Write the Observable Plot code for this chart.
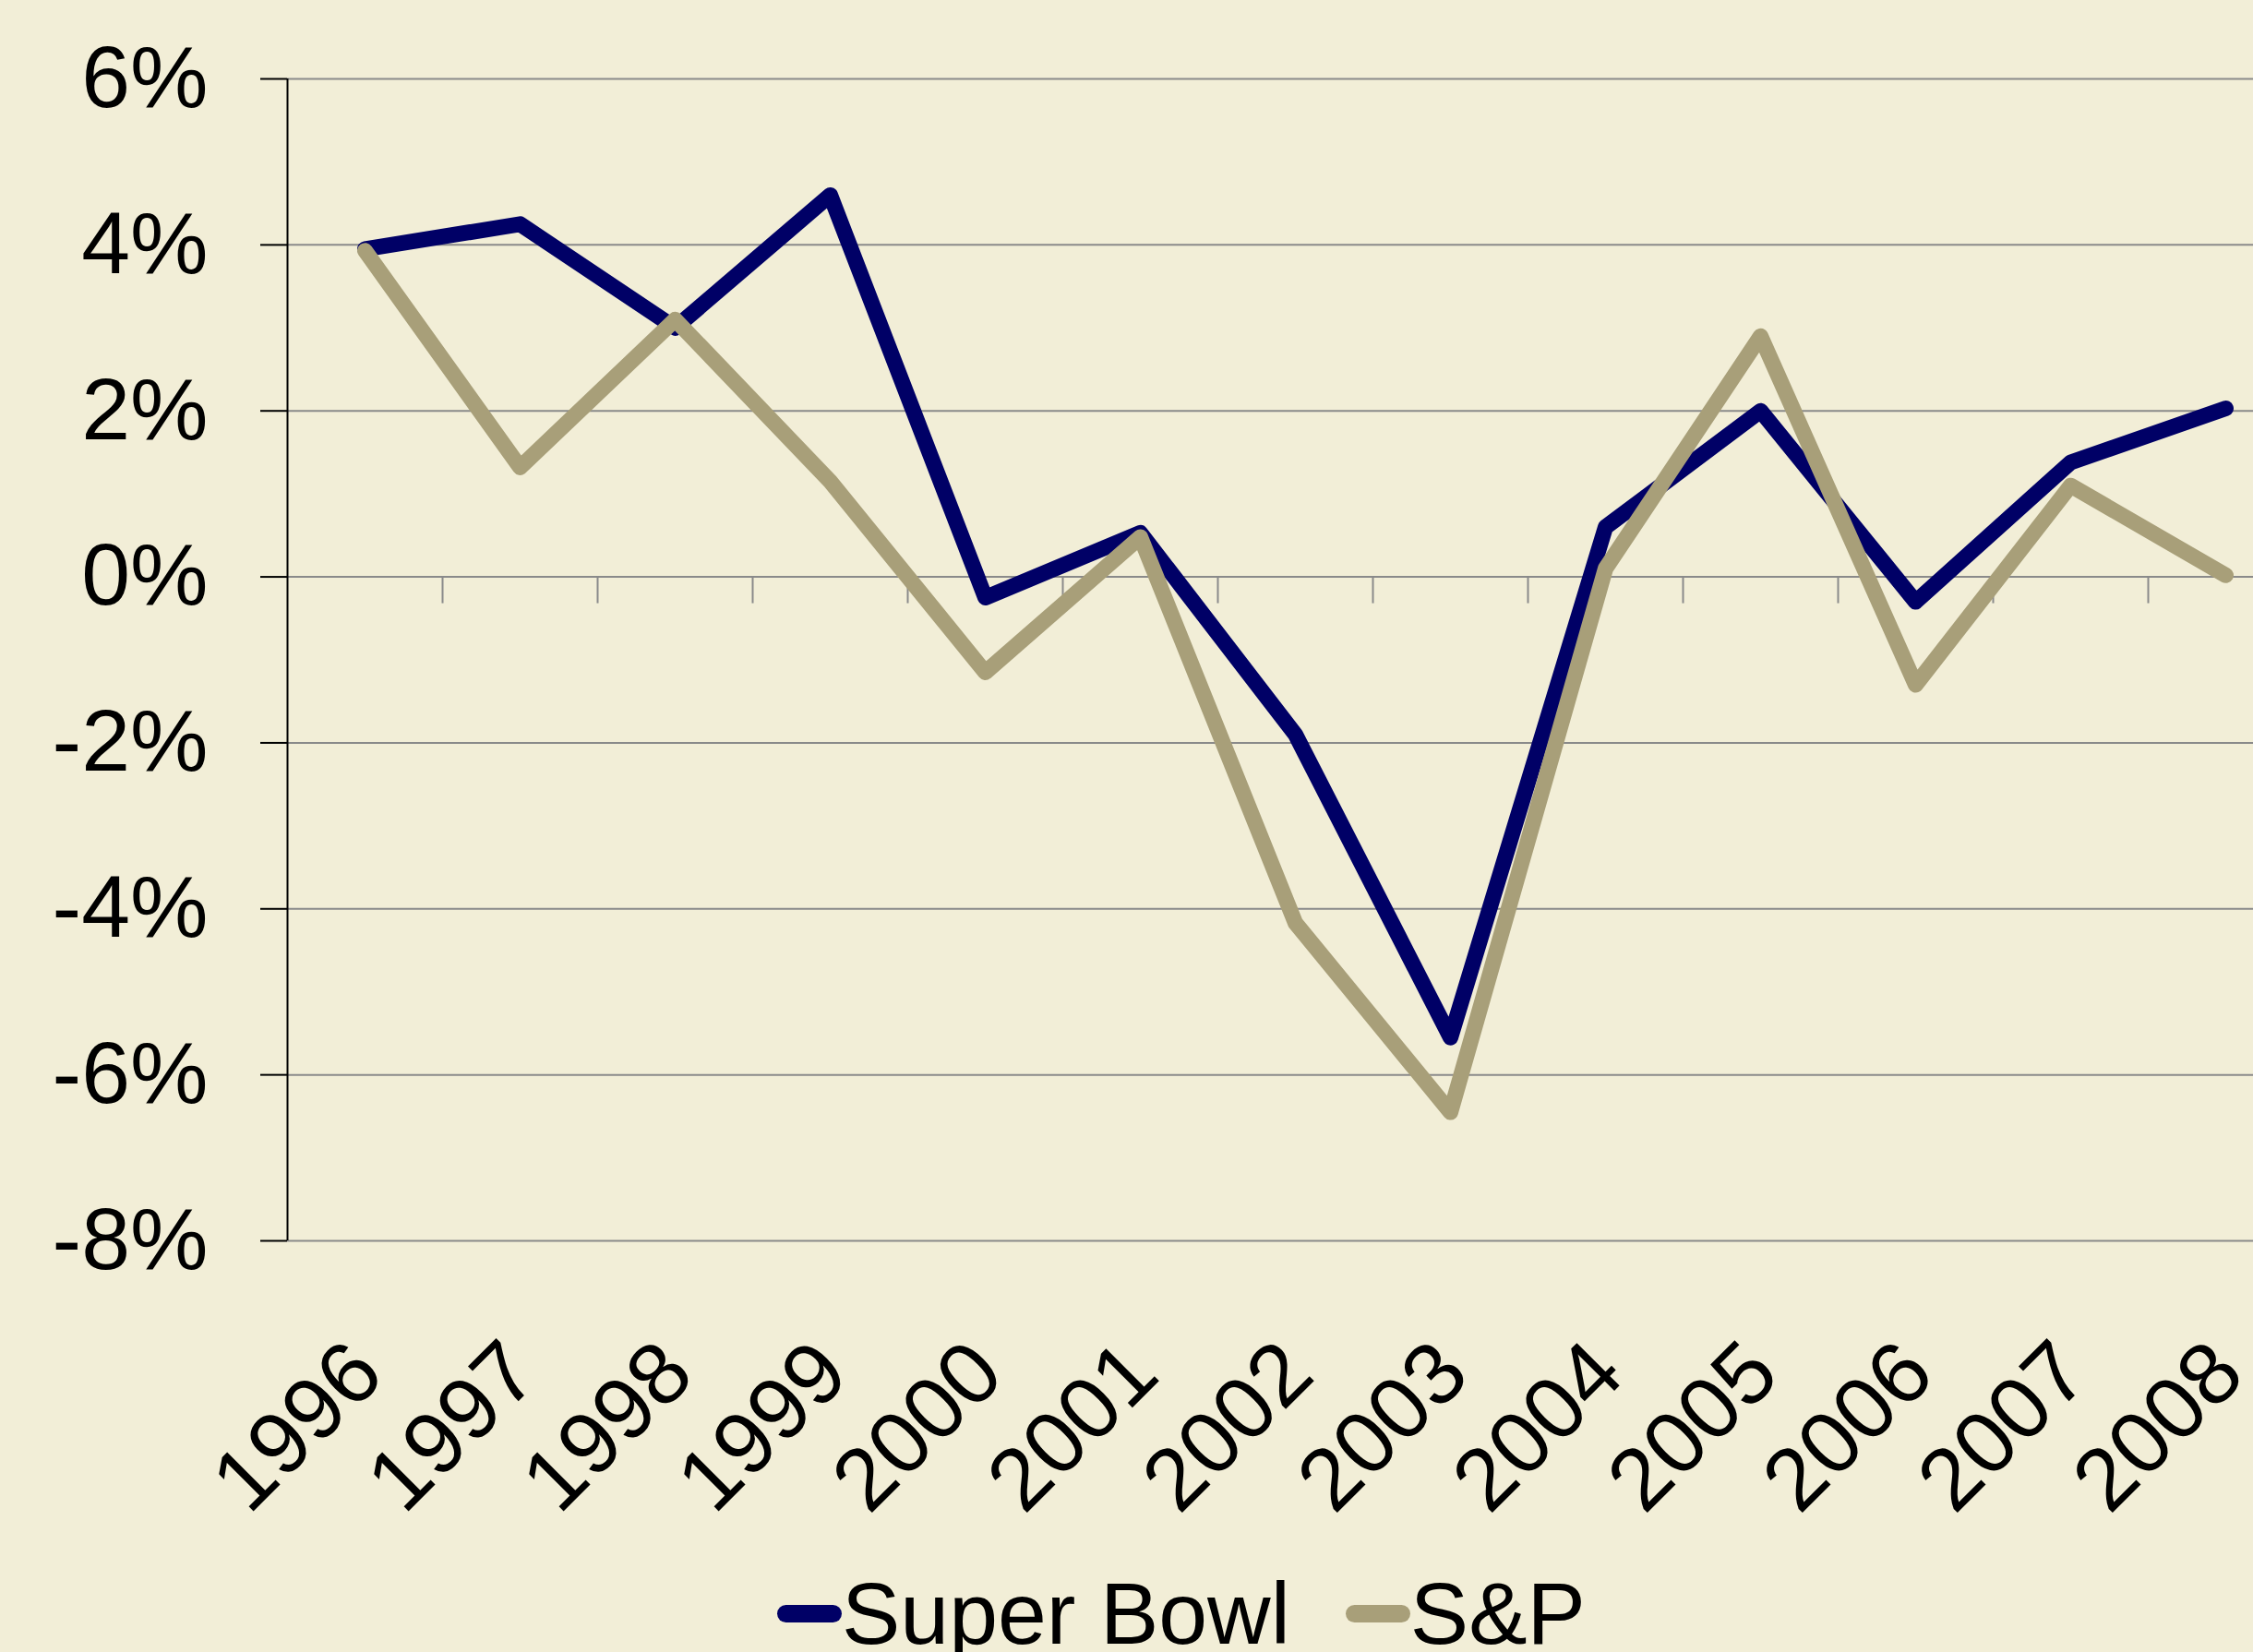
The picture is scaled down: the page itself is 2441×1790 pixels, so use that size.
<!DOCTYPE html>
<html>
<head>
<meta charset="utf-8">
<script src="https://cdn.jsdelivr.net/npm/d3@7"></script>
<script src="https://cdn.jsdelivr.net/npm/@observablehq/plot@0.6"></script>
<style>
  html, body { margin: 0; padding: 0; background: #F2EED7; overflow: hidden; }
  body { width: 2441px; height: 1790px; font-family: "Liberation Sans", Arial, sans-serif; }
  #legend { display: flex; align-items: center; height: 156px; margin-left: 842px; font-size: 95px; color: #000; white-space: nowrap; }
  .sw { display: inline-block; width: 70px; height: 19px; border-radius: 10px; }
</style>
</head>
<body>
<div id="chart"></div>
<div id="legend"></div>
<script>
const years = [1996, 1997, 1998, 1999, 2000, 2001, 2002, 2003, 2004, 2005, 2006, 2007, 2008];
const superBowl = [3.95, 4.25, 3.0, 4.6, -0.25, 0.53, -1.9, -5.55, 0.6, 2.0, -0.3, 1.38, 2.03];
const sp = [3.93, 1.32, 3.1, 1.15, -1.15, 0.48, -4.17, -6.45, 0.1, 2.9, -1.3, 1.1, 0.02];
const yTicks = [-8, -6, -4, -2, 0, 2, 4, 6];
const seriesNames = ["Super Bowl", "S&P"];
const seriesColors = ["#000066", "#A89F79"];

const rows = [];
years.forEach((yr, i) => {
  rows.push({year: yr, value: superBowl[i], series: seriesNames[0]});
  rows.push({year: yr, value: sp[i], series: seriesNames[1]});
});
const xDomain = [years[0] - 0.5, years[years.length - 1] + 0.5];
const boundaries = years.slice(1).map(y => y - 0.5);

const W = 2441, H = 1670;
const chart = Plot.plot({
  width: W,
  height: H,
  marginLeft: 311,
  marginRight: 0,
  marginTop: 85,
  marginBottom: H - 1344,
  style: {background: "#F2EED7", fontFamily: "'Liberation Sans', Arial, sans-serif", color: "#000", overflow: "hidden"},
  x: {domain: xDomain, range: [311, 311 + 168 * years.length], axis: null},
  y: {domain: [yTicks[0], yTicks[yTicks.length - 1]], axis: null, label: null},
  marks: [
    Plot.ruleY(yTicks, {stroke: "#8a8a8a", strokeWidth: 2}),
    Plot.ruleX(boundaries, {y1: 0, y2: 0, insetBottom: -29, stroke: "#8a8a8a", strokeWidth: 2}),
    Plot.ruleX([xDomain[0]], {stroke: "#000", strokeWidth: 2}),
    Plot.axisY({ticks: yTicks, label: null, tickSize: 29, tickPadding: 57, tickFormat: d => d + "%", fontSize: 95, stroke: "#000", strokeWidth: 2, fill: "#000"}),
    Plot.line(rows.filter(d => d.series === seriesNames[0]), {x: "year", y: "value", stroke: seriesColors[0], strokeWidth: 17, strokeLinejoin: "round", strokeLinecap: "round"}),
    Plot.line(rows.filter(d => d.series === seriesNames[1]), {x: "year", y: "value", stroke: seriesColors[1], strokeWidth: 17, strokeLinejoin: "round", strokeLinecap: "round"}),
    Plot.text(years, {x: d => d, text: d => String(d), frameAnchor: "bottom", dy: 127, dx: 2, rotate: -45, textAnchor: "end", lineAnchor: "middle", fontSize: 95, fill: "#000"})
  ]
});
document.getElementById("chart").appendChild(chart);

const legend = document.getElementById("legend");
seriesNames.forEach((name, i) => {
  const sw = document.createElement("span");
  sw.className = "sw";
  sw.style.background = seriesColors[i];
  legend.appendChild(sw);
  const t = document.createElement("span");
  t.textContent = name;
  t.style.marginRight = i === 0 ? "60px" : "0";
  legend.appendChild(t);
});
</script>
</body>
</html>
